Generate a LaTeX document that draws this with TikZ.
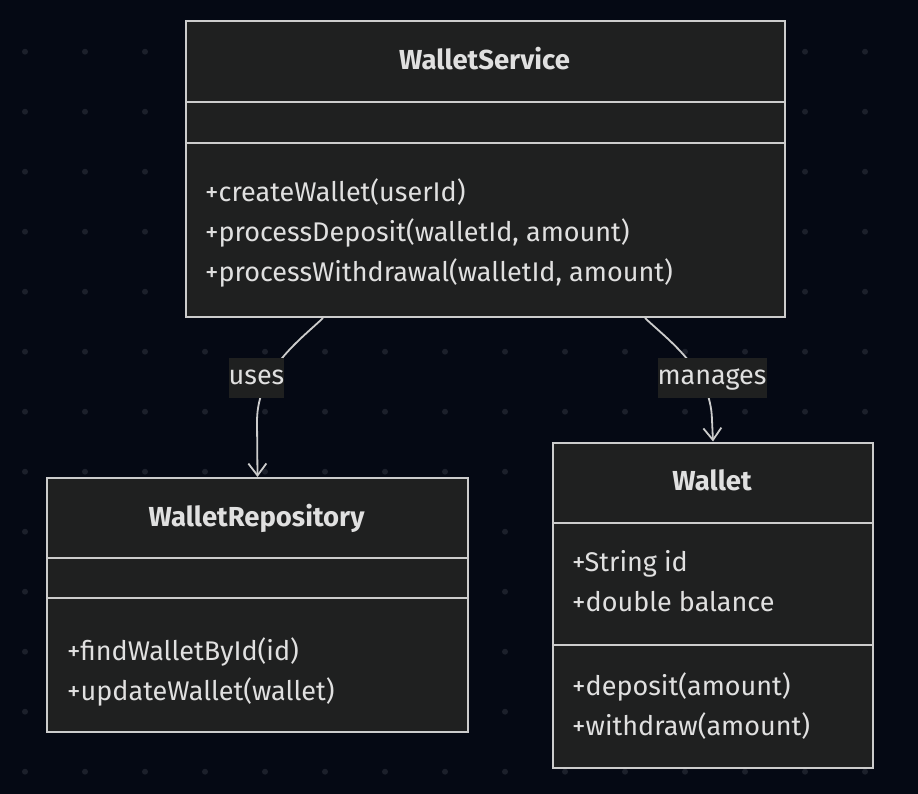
\documentclass[tikz,border=0pt]{standalone}
\usepackage{fontspec}
\setmainfont{Fira Sans}
\usetikzlibrary{arrows.meta,calc}
\definecolor{bg}{HTML}{050914}
\definecolor{dotc}{HTML}{1C202B}
\definecolor{boxfill}{HTML}{1F2020}
\definecolor{boxline}{HTML}{CCCCCC}
\definecolor{txt}{HTML}{E0E0E0}
\begin{document}
\begin{tikzpicture}[x=1pt,y=-1pt,
  classbox/.style={draw=boxline, fill=boxfill, line width=2pt, anchor=north west, inner sep=0pt},
  sep/.style={draw=boxline, line width=2pt},
  title/.style={font=\fontsize{27.5}{32}\selectfont\bfseries, text=txt, anchor=base, inner sep=0pt},
  member/.style={font=\fontsize{27}{32}\selectfont, text=txt, anchor=base west, inner sep=0pt},
  edge/.style={draw=boxline, line width=1.8pt, -{Straight Barb[length=12pt,width=18pt]}},
  elabel/.style={fill=boxfill, text=txt, font=\fontsize{27}{32}\selectfont, inner xsep=0pt, inner ysep=0pt, minimum height=40pt, text height=18pt, text depth=6pt}
]
\useasboundingbox (0,0) rectangle (918,794);
\fill[bg] (0,0) rectangle (918,794);
\foreach \i in {0,...,14} \foreach \j in {0,...,12} \fill[dotc] (25+60*\i, 51.7+60*\j) circle (3pt);

% class boxes
\node[classbox, minimum width=599pt, minimum height=296pt] (ws) at (185,20) {};
\node[classbox, minimum width=421pt, minimum height=254pt] (repo) at (46,477) {};
\node[classbox, minimum width=320pt, minimum height=325pt] (wal) at (552,441.5) {};

% separators
\draw[sep] (185,101.7) -- (784,101.7);
\draw[sep] (185,142.7) -- (784,142.7);
\draw[sep] (46,558.3) -- (467,558.3);
\draw[sep] (46,598.3) -- (467,598.3);
\draw[sep] (552,522.7) -- (872,522.7);
\draw[sep] (552,645) -- (872,645);

% WalletService text
\node[title] (wst) at (484.5,70) {WalletService};
\node[member] (wsm1) at (205,201.5) {+createWallet(userId)};
\node[member] (wsm2) at (205,241.7) {+processDeposit(walletId, amount)};
\node[member] (wsm3) at (205,281.7) {+processWithdrawal(walletId, amount)};

% WalletRepository text
\node[title] (rt) at (256.5,526.7) {WalletRepository};
\node[member] (rm1) at (67,660) {+findWalletById(id)};
\node[member] (rm2) at (67,700) {+updateWallet(wallet)};

% Wallet text
\node[title] (wt) at (712,490.7) {Wallet};
\node[member] (wa1) at (572,571.7) {+String id};
\node[member] (wa2) at (572,611.7) {+double balance};
\node[member] (wm1) at (572,695) {+deposit(amount)};
\node[member] (wm2) at (572,735) {+withdraw(amount)};

% edges
\coordinate (s1) at ($(ws.south west)+(138,0)$);
\coordinate (s2) at ($(ws.south west)+(460,0)$);
\draw[edge] (s1) .. controls (300,340) and (258,370) .. (257,420) -- (repo.north);
\draw[edge] (s2) .. controls (668,340) and (711,370) .. (712,420) -- (wal.north);
\node[elabel] (luses) at (256.5,378) {uses};
\node[elabel] (lman) at (712,378) {manages};
\end{tikzpicture}
\end{document}
